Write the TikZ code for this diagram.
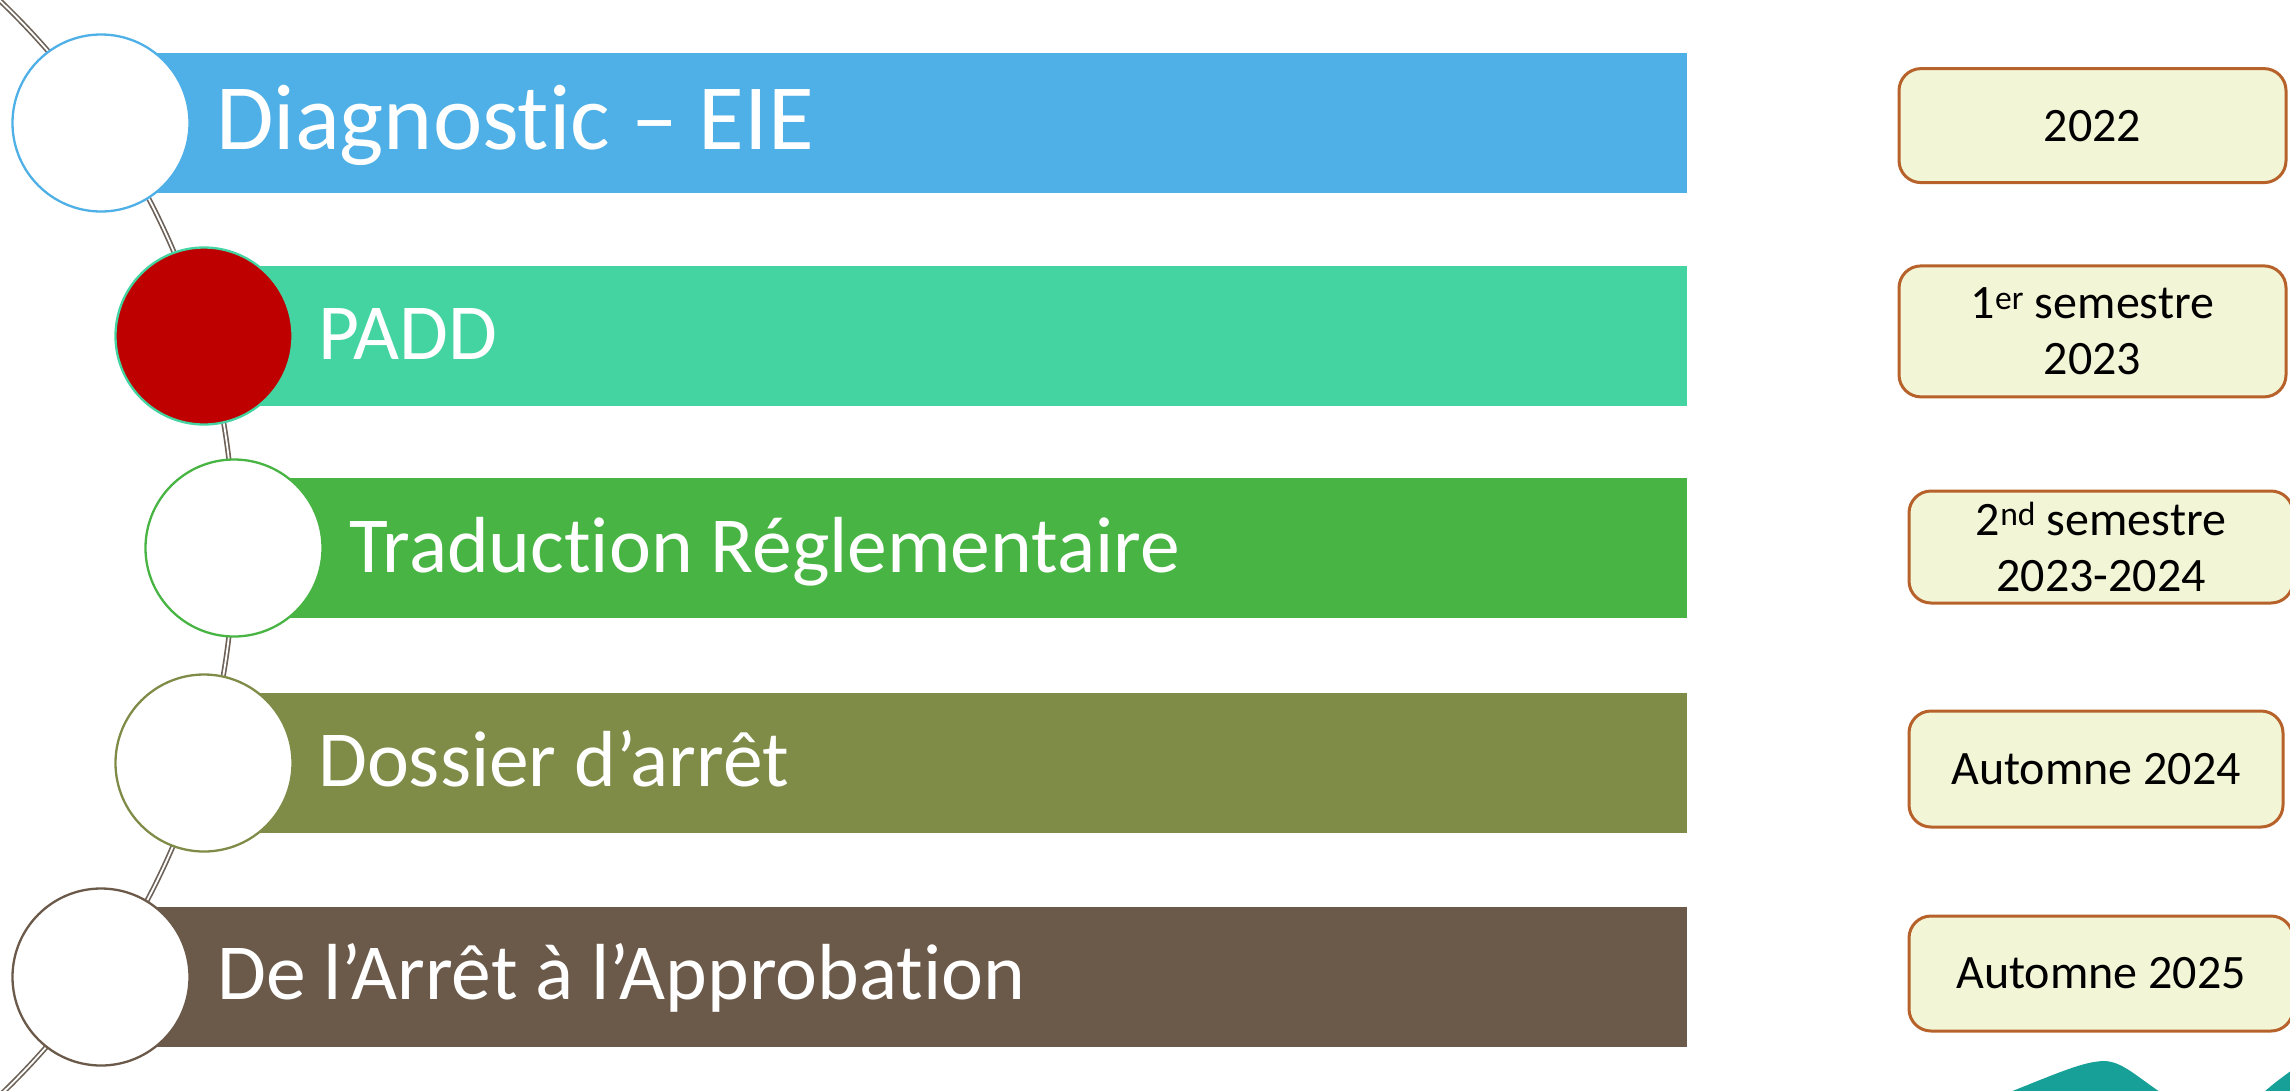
\documentclass[tikz,border=0pt]{standalone}
\usepackage{fontspec}
\setmainfont{Carlito}[Ligatures=NoCommon]
\definecolor{barA}{HTML}{4EB0E6}
\definecolor{barB}{HTML}{43D4A1}
\definecolor{barC}{HTML}{48B443}
\definecolor{barD}{HTML}{7F8C48}
\definecolor{barE}{HTML}{6B5A4A}
\definecolor{padd}{HTML}{BE0000}
\definecolor{arcline}{HTML}{6E6258}
\definecolor{datefill}{HTML}{F2F5D6}
\definecolor{dateline}{HTML}{B6622A}
\definecolor{logo}{HTML}{17A097}
\begin{document}
\begin{tikzpicture}[x=1pt,y=-1pt,
  bar/.style={fill=#1, draw=none, inner sep=0pt, minimum height=140pt, anchor=west},
  stage/.style={circle, draw=#1, line width=2.3pt, fill=white, minimum size=177pt, inner sep=0pt},
  lbl/.style={text=white, inner sep=0pt, anchor=base west, font=\fontsize{79.5}{90}\selectfont},
  datebox/.style={draw=dateline, fill=datefill, line width=3pt, rounded corners=22pt,
    align=center, inner sep=0pt, font=\fontsize{48}{56}\selectfont}]
\useasboundingbox (0,0) rectangle (2290,1090);
\begin{scope}
\clip (0,0) rectangle (2290,1090);
% timeline spine
\draw[draw=arcline, line width=1.7pt, double=white, double distance=1.8pt]
  (-523,548) circle[radius=757pt];

% coloured stage bars
\node[bar=barA, minimum width=1586pt] (b1) at (101,123) {};
\node[bar=barB, minimum width=1483pt] (b2) at (204,336) {};
\node[bar=barC, minimum width=1453pt] (b3) at (234,548) {};
\node[bar=barD, minimum width=1483pt] (b4) at (204,763) {};
\node[bar=barE, minimum width=1586pt] (b5) at (101,977) {};

% stage markers
\node[stage=barA] (c1) at (101,123) {};
\node[stage=barB, fill=padd] (c2) at (204,336) {};
\node[stage=barC] (c3) at (234,548) {};
\node[stage=barD] (c4) at (204,763) {};
\node[stage=barE] (c5) at (101,977) {};

% stage titles
\node[lbl, font=\fontsize{93.5}{110}\selectfont] (t1) at (216,149) {Diagnostic – EIE};
\node[lbl] (t2) at (318,359) {PADD};
\node[lbl] (t3) at (349,572) {Traduction Réglementaire};
\node[lbl] (t4) at (318,786) {Dossier d’arrêt};
\node[lbl] (t5) at (217,999) {De l’Arrêt à l’Approbation};

% dates
\node[datebox, minimum width=387pt, minimum height=114pt] (d1) at (2092.5,125.6) {2022};
\node[datebox, minimum width=387pt, minimum height=131pt] (d2) at (2092.5,331.4) {1\textsuperscript{er} semestre\\2023};
\node[datebox, minimum width=384pt, minimum height=112pt] (d3) at (2101,547) {2\textsuperscript{nd} semestre\\2023-2024};
\node[datebox, minimum width=374pt, minimum height=116pt] (d4) at (2096,769) {Automne 2024};
\node[datebox, minimum width=384pt, minimum height=115pt] (d5) at (2101,973.5) {Automne 2025};

% logo fragment in the corner
\fill[logo] (2010,1092) .. controls (2060,1072) and (2085,1061) .. (2105,1061)
  .. controls (2122,1062) and (2135,1075) .. (2160,1092) -- cycle;
\fill[logo] (2264,1092) .. controls (2274,1083) and (2284,1076) .. (2292,1070) -- (2292,1092) -- cycle;
\end{scope}
\end{tikzpicture}
\end{document}
